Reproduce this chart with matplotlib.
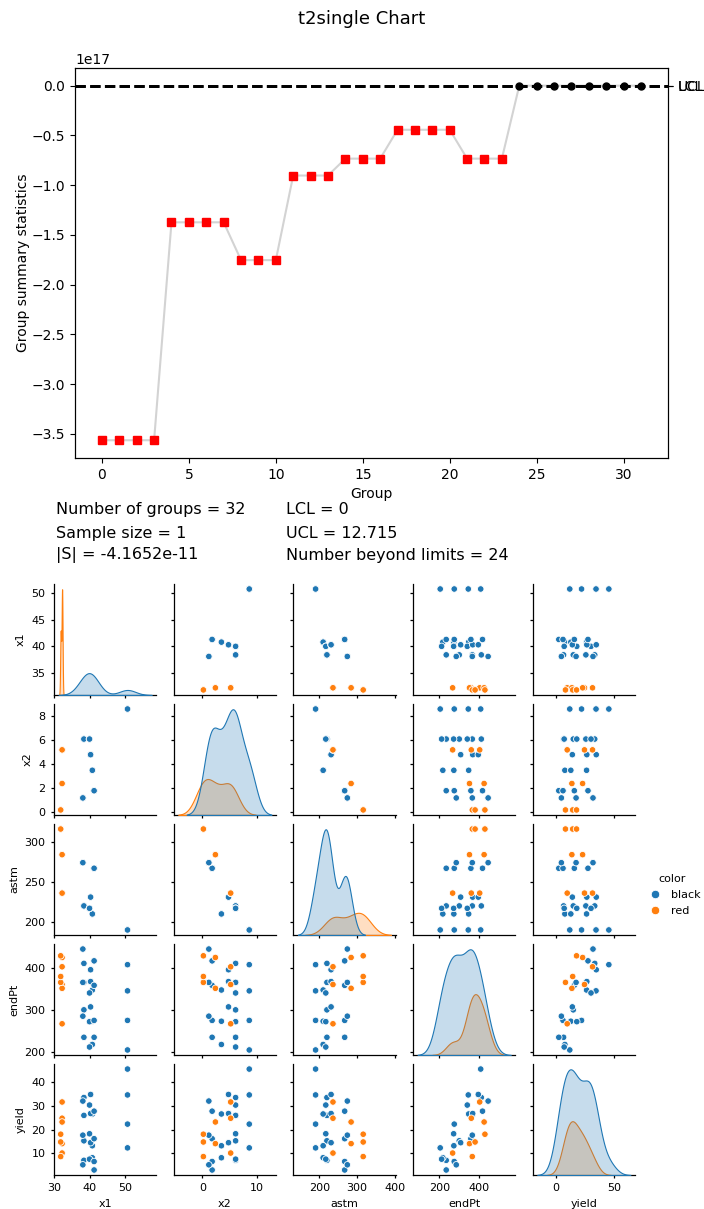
import numpy as np
import pandas as pd
import matplotlib
matplotlib.use("Agg")
import matplotlib.pyplot as plt
from matplotlib.ticker import MaxNLocator
import seaborn as sns

# ---- T2 single-observation chart values ----
t2_stat = [-3.563e17, -3.563e17, -3.563e17, -3.563e17,
           -1.373e17, -1.373e17, -1.373e17, -1.373e17,
           -1.753e17, -1.753e17, -1.753e17,
           -0.903e17, -0.903e17, -0.903e17,
           -0.733e17, -0.733e17, -0.733e17,
           -0.443e17, -0.443e17, -0.443e17, -0.443e17,
           -0.733e17, -0.733e17, -0.733e17,
           3.1, 5.4, 2.6, 8.2, 6.0, 4.3, 9.1, 7.2]
LCL = 0
UCL = 12.715
n_groups = 32
sample_size = 1
det_S = -4.1652e-11

# ---- gasoline (petrol) data used in the pair plot ----
x1 = [50.8, 50.8, 50.8, 50.8, 38.4, 38.4, 38.4, 38.4, 40.8, 40.8, 40.8,
      40.0, 40.0, 40.0, 40.3, 40.3, 40.3, 41.3, 41.3, 41.3, 41.3, 38.1, 38.1, 38.1,
      32.2, 32.2, 32.2, 32.2, 32.2, 31.8, 31.8, 31.8]
x2 = [8.6, 8.6, 8.6, 8.6, 6.1, 6.1, 6.1, 6.1, 3.5, 3.5, 3.5,
      6.1, 6.1, 6.1, 4.8, 4.8, 4.8, 1.8, 1.8, 1.8, 1.8, 1.2, 1.2, 1.2,
      5.2, 5.2, 5.2, 2.4, 2.4, 0.2, 0.2, 0.2]
astm = [190, 190, 190, 190, 220, 220, 220, 220, 210, 210, 210,
        217, 217, 217, 231, 231, 231, 267, 267, 267, 267, 274, 274, 274,
        236, 236, 236, 284, 284, 316, 316, 316]
endPt = [205, 275, 345, 407, 235, 300, 365, 410, 218, 273, 347,
         212, 272, 340, 307, 367, 395, 235, 275, 358, 416, 285, 365, 444,
         267, 360, 402, 351, 424, 365, 379, 428]
yield_ = [12.2, 22.3, 34.7, 45.7, 6.9, 15.2, 26.0, 33.6, 8.0, 13.1, 26.6,
          7.4, 18.2, 30.4, 14.4, 26.8, 34.9, 2.8, 6.4, 16.1, 27.8, 5.0, 17.6, 32.1,
          10.0, 24.8, 31.7, 14.0, 23.2, 8.5, 14.7, 18.0]
color = ["black"] * 24 + ["red"] * 8

petrol = pd.DataFrame({"x1": x1, "x2": x2, "astm": astm,
                       "endPt": endPt, "yield": yield_, "color": color})

# pair plot first: it owns the figure, the control chart is added on top
g = sns.pairplot(petrol, hue="color", height=1.5,
                 grid_kws={"diag_sharey": False},
                 plot_kws={"s": 22, "linewidth": 0.6},
                 diag_kws={"linewidth": 0.8})
fig = g.figure
fig.set_size_inches(7.04, 12.09)
fig.set_dpi(100)
fig.subplots_adjust(left=0.0767, right=0.902, top=0.517, bottom=0.0281,
                    wspace=0.169, hspace=0.081)

for ax in g.axes.flat:
    ax.tick_params(labelsize=8, length=2.5, width=0.9)
    ax.xaxis.label.set_size(8)
    ax.yaxis.label.set_size(8)
    ax.yaxis.set_major_locator(MaxNLocator(nbins=5, steps=[1, 2, 2.5, 5, 10]))
    for sp in ax.spines.values():
        sp.set_linewidth(0.9)

sns.move_legend(g, "center left", bbox_to_anchor=(0.9, 0.2597),
                frameon=False, fontsize=8, title_fontsize=8, markerscale=1.3,
                handletextpad=0.5)

# ---- control chart ----
groups = np.arange(len(t2_stat))
stat = np.array(t2_stat)
out = (stat > UCL) | (stat < LCL)

ax = fig.add_axes([0.1065, 0.6212, 0.8423, 0.3226])
ax.plot(groups, stat, color="lightgray", linewidth=1.5, zorder=1)
ax.plot(groups[out], stat[out], "s", color="red", markersize=6, zorder=3)
ax.plot(groups[~out], stat[~out], "o", color="black", markersize=5, zorder=3)
ax.axhline(UCL, color="black", linestyle="--", linewidth=2, zorder=2)
ax.axhline(LCL, color="black", linestyle="--", linewidth=2, zorder=2)
ax.set_xlabel("Group")
ax.set_ylabel("Group summary statistics", labelpad=1.5)

ax_lim = ax.twinx()
ax_lim.set_ylim(ax.get_ylim())
ax_lim.set_yticks([LCL, UCL], ["LCL", "UCL"])

fig.text(0.5135, 0.9843, "t2single Chart", fontsize=13, ha="center", va="center")

fig.text(0.0795, 0.5782, f"Number of groups = {n_groups}", fontsize=11.5, va="center")
fig.text(0.0795, 0.5591, f"Sample size = {sample_size}", fontsize=11.5, va="center")
fig.text(0.0795, 0.5409, f"|S| = {det_S:.4e}", fontsize=11.5, va="center")
fig.text(0.4062, 0.5782, f"LCL = {LCL}", fontsize=11.5, va="center")
fig.text(0.4062, 0.5591, f"UCL = {UCL}", fontsize=11.5, va="center")
fig.text(0.4062, 0.5409, f"Number beyond limits = {int(out.sum())}", fontsize=11.5, va="center")

fig.savefig("out.png", dpi=100)
